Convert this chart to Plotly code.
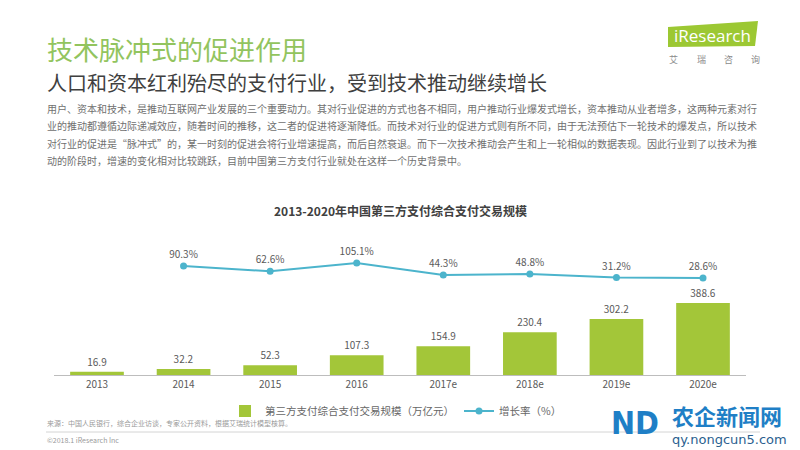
import plotly.graph_objects as go

# ---------------- data ----------------
categories = ["2013", "2014", "2015", "2016", "2017e", "2018e", "2019e", "2020e"]
volume = [16.9, 32.2, 52.3, 107.3, 154.9, 230.4, 302.2, 388.6]  # 万亿元
growth_categories = ["2014", "2015", "2016", "2017e", "2018e", "2019e", "2020e"]
growth = [90.3, 62.6, 105.1, 44.3, 48.8, 31.2, 28.6]  # %

title_text = "技术脉冲式的促进作用"
subtitle_text = "人口和资本红利殆尽的支付行业，受到技术推动继续增长"
paragraph_lines = [
    "用户、资本和技术，是推动互联网产业发展的三个重要动力。其对行业促进的方式也各不相同，用户推动行业爆发式增长，资本推动从业者增多，这两种元素对行",
    "业的推动都遵循边际递减效应，随着时间的推移，这二者的促进将逐渐降低。而技术对行业的促进方式则有所不同，由于无法预估下一轮技术的爆发点，所以技术",
    "对行业的促进是“脉冲式”的，某一时刻的促进会将行业增速提高，而后自然衰退。而下一次技术推动会产生和上一轮相似的数据表现。因此行业到了以技术为推",
    "动的阶段时，增速的变化相对比较跳跃，目前中国第三方支付行业就处在这样一个历史背景中。",
]
chart_title = "2013-2020年中国第三方支付综合支付交易规模"
bar_name = "第三方支付综合支付交易规模（万亿元）"
line_name = "增长率（%）"
source_text = "来源：中国人民银行，综合企业访谈，专家公开资料，根据艾瑞统计模型核算。"
copyright_text = "©2018.1 iResearch Inc"

W, H = 800, 450
FONT = "Noto Sans CJK SC"
BAR_COLOR = "#a3c639"
LINE_COLOR = "#4cb4cc"
PAGE_OFF = 8  # default page body margin shifts the figure by this many px


def px(x):
    return (x - PAGE_OFF) / W


def py(y):
    return 1 - (y - PAGE_OFF) / H


fig = go.Figure()

fig.add_trace(go.Bar(
    x=categories, y=volume, name=bar_name,
    marker=dict(color=BAR_COLOR, line=dict(width=0)),
    width=0.62,
    text=[f"{v:.1f}" for v in volume], textposition="outside",
    textfont=dict(size=10, color="#5a5a5a", family=FONT),
    cliponaxis=False,
))

fig.add_trace(go.Scatter(
    x=growth_categories, y=growth, name=line_name, yaxis="y2",
    mode="lines+markers+text",
    line=dict(color=LINE_COLOR, width=2),
    marker=dict(color=LINE_COLOR, size=7),
    text=[f"{v:.1f}%" for v in growth],
    textposition="top center",
    textfont=dict(size=10, color="#5a5a5a", family=FONT),
    cliponaxis=False,
))

annotations = []


def txt(x, y, s, size, color, xanchor="left", bold=False, family=FONT):
    annotations.append(dict(
        x=px(x), y=py(y), xref="paper", yref="paper", text=(f"<b>{s}</b>" if bold else s),
        showarrow=False, xanchor=xanchor, yanchor="middle",
        font=dict(size=size, color=color, family=family),
    ))


txt(45, 48, title_text, 26, "#92c45e")
txt(45, 83, subtitle_text, 20, "#3f3f3f")
for i, line in enumerate(paragraph_lines):
    txt(45, 108 + i * 17.5, line, 10, "#707070")
txt(400, 210, chart_title, 12, "#404040", xanchor="center", bold=True)
txt(45, 423, source_text, 7, "#9a9a9a")
txt(45, 440, copyright_text, 7, "#9a9a9a")

# iResearch logo
txt(712, 35, "iResearch", 17, "#ffffff", xanchor="center", family="Open Sans")
for cx, ch in zip([673, 701, 728, 755], ["艾", "瑞", "咨", "询"]):
    txt(cx, 60, ch, 9, "#8a8a8a", xanchor="center")

# watermark
txt(635, 423, "<b>ND</b>", 32, "#1f7fc6", xanchor="center", family="DejaVu Sans Condensed")
txt(727, 415, "<b>农企新闻网</b>", 22, "#1f7fc6", xanchor="center")
txt(729, 439, "qy.nongcun5.com", 13, "#2b5f8f", xanchor="center", family="DejaVu Sans")

shapes = [
    dict(type="path", xref="paper", yref="paper",
         path=f"M {px(668)} {py(27)} L {px(758)} {py(21)} L {px(755)} {py(46)} L {px(668)} {py(47)} Z",
         fillcolor="#9cc833", line=dict(width=0), layer="below"),
    dict(type="line", xref="paper", yref="paper",
         x0=px(46), x1=px(760), y0=py(432), y1=py(432),
         line=dict(color="#d4d4d4", width=1)),
]

fig.update_layout(
    width=W, height=H,
    margin=dict(l=0, r=0, t=0, b=0),
    paper_bgcolor="#ffffff", plot_bgcolor="rgba(0,0,0,0)",
    font=dict(family=FONT, color="#595959"),
    showlegend=True,
    legend=dict(orientation="h", x=px(396), xanchor="center", y=py(411), yanchor="middle",
                font=dict(size=10.5, color="#666666", family=FONT),
                bgcolor="rgba(0,0,0,0)", itemwidth=30, tracegroupgap=0),
    xaxis=dict(domain=[px(53.7), px(746.3)], type="category",
               categoryorder="array", categoryarray=categories,
               range=[-0.5, 7.5], showgrid=False, zeroline=False,
               showline=True, linecolor="#bdbdbd", linewidth=1,
               ticks="", tickfont=dict(size=10, color="#5a5a5a", family=FONT)),
    yaxis=dict(domain=[py(375), py(240)], range=[0, 729], visible=False,
               showgrid=False, zeroline=False),
    yaxis2=dict(overlaying="y", range=[-466.1, 222.4], visible=False,
                showgrid=False, zeroline=False),
    bargap=0.38,
    annotations=annotations,
    shapes=shapes,
)

fig.write_html("out.html")
